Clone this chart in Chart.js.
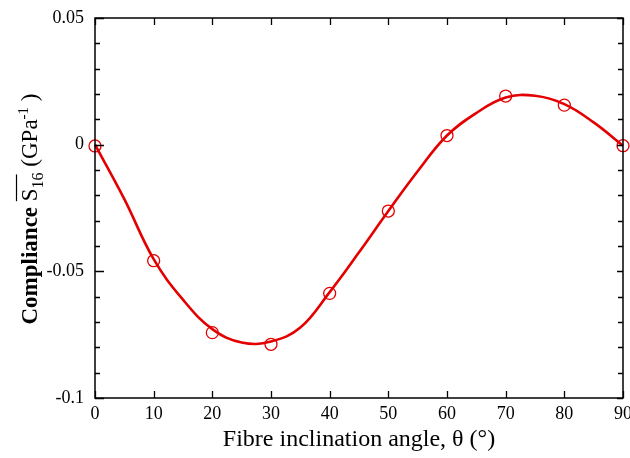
<!DOCTYPE html>
<html>
<head>
<meta charset="utf-8">
<script src="https://cdn.jsdelivr.net/npm/chart.js@4/dist/chart.umd.min.js"></script>
<style>
  html, body { margin: 0; padding: 0; background: #fff; }
  #wrap { width: 630px; height: 458px; }
</style>
</head>
<body>
<div id="wrap"><canvas id="c" width="630" height="458"></canvas></div>
<script>
// Measured points (red circles)
const angles = [0, 10, 20, 30, 40, 50, 60, 70, 80, 90];
const compliance = [-0.0005, -0.0458, -0.0742, -0.0788, -0.0587, -0.0262, 0.0036, 0.0192, 0.0156, -0.0004];
// Fitted curve
const curveAngles = [0, 5, 10, 15, 20, 25, 30, 35, 40, 45, 50, 55, 60, 65, 70, 75, 80, 85, 90];
const curveValues = [0, -0.0215, -0.0452, -0.0612, -0.0728, -0.0781, -0.0777, -0.0722, -0.0582, -0.0425, -0.0262, -0.0105, 0.0036, 0.0125, 0.0186, 0.0193, 0.0160, 0.0088, -0.0004];
// Axis ticks
const xTicks = [0, 10, 20, 30, 40, 50, 60, 70, 80, 90];
const yMajorTicks = [-0.1, -0.05, 0, 0.05];
const yMinorTicks = [-0.09, -0.08, -0.07, -0.06, -0.04, -0.03, -0.02, -0.01, 0.01, 0.02, 0.03, 0.04];
const xTitle = 'Fibre inclination angle, θ (°)';

const RED = 'rgb(228,0,0)';
const SERIF = '"Liberation Serif", "Times New Roman", serif';

const framePlugin = {
  id: 'frame',
  afterDraw(chart) {
    const ctx = chart.ctx;
    const a = chart.chartArea;
    const xs = chart.scales.x, ys = chart.scales.y;
    ctx.save();
    ctx.strokeStyle = '#000';
    ctx.lineWidth = 1.5;
    ctx.strokeRect(a.left, a.top, a.right - a.left, a.bottom - a.top);
    ctx.lineWidth = 1.3;
    ctx.beginPath();
    xTicks.forEach(v => {
      const px = Math.round(xs.getPixelForValue(v)) + 0.5;
      ctx.moveTo(px, a.bottom); ctx.lineTo(px, a.bottom - 7);
      ctx.moveTo(px, a.top); ctx.lineTo(px, a.top + 7);
    });
    yMajorTicks.forEach(v => {
      const py = Math.round(ys.getPixelForValue(v)) + 0.5;
      ctx.moveTo(a.left, py); ctx.lineTo(a.left + 9, py);
      ctx.moveTo(a.right, py); ctx.lineTo(a.right - 6, py);
    });
    yMinorTicks.forEach(v => {
      const py = Math.round(ys.getPixelForValue(v)) + 0.5;
      ctx.moveTo(a.left, py); ctx.lineTo(a.left + 5, py);
      ctx.moveTo(a.right, py); ctx.lineTo(a.right - 5, py);
    });
    ctx.stroke();

    // x title
    ctx.fillStyle = '#000';
    ctx.font = '24px ' + SERIF;
    ctx.textAlign = 'center';
    ctx.textBaseline = 'middle';
    ctx.fillText(xTitle, (a.left + a.right) / 2, 440);

    // y title (rotated), with overline, subscript and superscript
    const parts = [
      { t: 'Compliance ', f: 'bold 23px ' + SERIF, dy: 0 },
      { t: 'S', f: '23px ' + SERIF, dy: 0, over: true },
      { t: '16', f: '16px ' + SERIF, dy: 6, over: true },
      { t: ' (GPa', f: '23px ' + SERIF, dy: 0 },
      { t: '-1', f: '15px ' + SERIF, dy: -9 },
      { t: ' )', f: '23px ' + SERIF, dy: 0 }
    ];
    let total = 0;
    parts.forEach(p => { ctx.font = p.f; p.w = ctx.measureText(p.t).width; total += p.w; });
    ctx.translate(29, 209);
    ctx.rotate(-Math.PI / 2);
    ctx.textAlign = 'left';
    ctx.textBaseline = 'alphabetic';
    let x = -total / 2;
    const base = 8;
    let overStart = null, overEnd = null;
    parts.forEach(p => {
      ctx.font = p.f;
      ctx.fillText(p.t, x, base + p.dy);
      if (p.over) { if (overStart === null) overStart = x; overEnd = x + p.w; }
      x += p.w;
    });
    ctx.lineWidth = 1.2;
    ctx.beginPath();
    ctx.moveTo(overStart, base - 20.5);
    ctx.lineTo(overEnd - 2, base - 20.5);
    ctx.stroke();
    ctx.restore();
  }
};

new Chart(document.getElementById('c'), {
  type: 'scatter',
  data: {
    datasets: [
      {
        label: 'fit',
        type: 'line',
        data: curveAngles.map((a, i) => ({ x: a, y: curveValues[i] })),
        borderColor: RED,
        borderWidth: 2.6,
        pointRadius: 0,
        fill: false,
        tension: 0.4,
        order: 2
      },
      {
        label: 'measured',
        data: angles.map((a, i) => ({ x: a, y: compliance[i] })),
        borderColor: RED,
        backgroundColor: 'rgba(0,0,0,0)',
        pointStyle: 'circle',
        pointRadius: 6,
        pointBorderWidth: 1.3,
        showLine: false,
        order: 1
      }
    ]
  },
  options: {
    responsive: false,
    animation: false,
    clip: false,
    layout: { autoPadding: false, padding: { left: 0, right: 7, top: 18, bottom: 0 } },
    plugins: { legend: { display: false }, tooltip: { enabled: false } },
    scales: {
      x: {
        type: 'linear', min: 0, max: 90,
        afterFit(s) { s.height = 60; s.paddingLeft = 0; s.paddingRight = 0; },
        afterBuildTicks(s) { s.ticks = xTicks.map(v => ({ value: v })); },
        grid: { display: false, drawTicks: false },
        border: { display: false },
        ticks: { color: '#000', font: { family: SERIF, size: 18 }, padding: 5, maxRotation: 0 }
      },
      y: {
        type: 'linear', min: -0.1, max: 0.05,
        afterFit(s) { s.width = 95; s.paddingTop = 0; s.paddingBottom = 0; },
        afterBuildTicks(s) { s.ticks = yMajorTicks.map(v => ({ value: v })); },
        grid: { display: false, drawTicks: false },
        border: { display: false },
        ticks: {
          color: '#000', font: { family: SERIF, size: 18 }, padding: 11,
          callback: v => (Math.abs(v) < 1e-9 ? '0' : String(+v.toFixed(2)))
        }
      }
    }
  },
  plugins: [framePlugin]
});
</script>
</body>
</html>
